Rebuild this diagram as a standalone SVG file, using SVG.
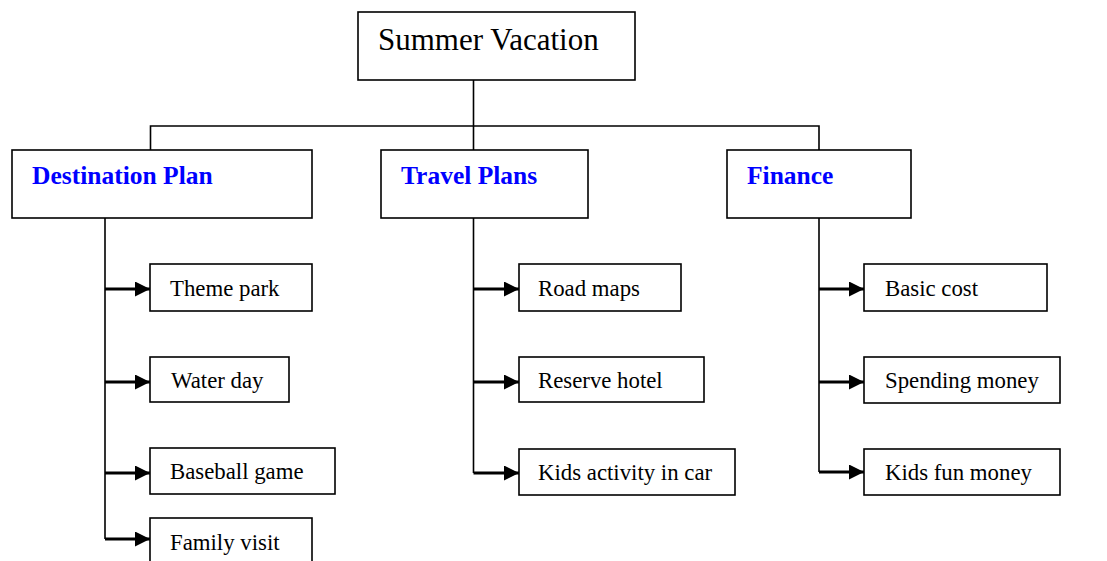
<svg xmlns="http://www.w3.org/2000/svg" width="1107" height="561" viewBox="0 0 1107 561">
<defs>
<style>
.box{fill:#fff;stroke:#000;stroke-width:1.6}
.t{font-family:"Liberation Serif","Times New Roman",serif;font-size:22.8px;fill:#000}
.h{font-family:"Liberation Serif","Times New Roman",serif;font-size:25.5px;font-weight:bold;fill:#0000ff}
.root{font-family:"Liberation Serif","Times New Roman",serif;font-size:31px;fill:#000}
.ln{fill:none;stroke:#000;stroke-width:1.6}
.ar{fill:none;stroke:#000;stroke-width:3.2}
</style>
<marker id="ah" viewBox="0 0 10 10" refX="10" refY="5" markerWidth="15" markerHeight="15" markerUnits="userSpaceOnUse" orient="auto">
<path d="M0,0 L10,5 L0,10 Z" fill="#000"/>
</marker>
</defs>
<g id="connectors">
<path class="ln" d="M473.5,80 V150 M150.5,150 V126 H819 V150"/>
<path class="ln" d="M105,218 V539 M473.5,218 V473 M819,218 V472"/>
<path class="ar" d="M105,289 H150" marker-end="url(#ah)"/>
<path class="ar" d="M105,382 H150" marker-end="url(#ah)"/>
<path class="ar" d="M105,473 H150" marker-end="url(#ah)"/>
<path class="ar" d="M105,539 H150" marker-end="url(#ah)"/>
<path class="ar" d="M473.5,289 H519" marker-end="url(#ah)"/>
<path class="ar" d="M473.5,382 H519" marker-end="url(#ah)"/>
<path class="ar" d="M473.5,473 H519" marker-end="url(#ah)"/>
<path class="ar" d="M819,289 H864" marker-end="url(#ah)"/>
<path class="ar" d="M819,382 H864" marker-end="url(#ah)"/>
<path class="ar" d="M819,472 H864" marker-end="url(#ah)"/>
</g>
<g id="root"><rect class="box" x="358" y="12" width="277" height="68"/><text class="root" x="378" y="50">Summer Vacation</text></g>
<g id="destination"><rect class="box" x="12" y="150" width="300" height="68"/><text class="h" x="32" y="183.5">Destination Plan</text></g>
<g id="travel"><rect class="box" x="381" y="150" width="207" height="68"/><text class="h" x="401" y="183.5">Travel Plans</text></g>
<g id="finance"><rect class="box" x="727" y="150" width="184" height="68"/><text class="h" x="747" y="183.5">Finance</text></g>
<g id="theme-park"><rect class="box" x="150" y="264" width="162" height="47"/><text class="t" x="170" y="296">Theme park</text></g>
<g id="water-day"><rect class="box" x="150" y="357" width="139" height="45"/><text class="t" x="171" y="388">Water day</text></g>
<g id="baseball-game"><rect class="box" x="150" y="448" width="185" height="46"/><text class="t" x="170" y="479">Baseball game</text></g>
<g id="family-visit"><rect class="box" x="150" y="518" width="162" height="60"/><text class="t" x="170" y="550">Family visit</text></g>
<g id="road-maps"><rect class="box" x="519" y="264" width="162" height="47"/><text class="t" x="538" y="296">Road maps</text></g>
<g id="reserve-hotel"><rect class="box" x="519" y="357" width="185" height="45"/><text class="t" x="538" y="388">Reserve hotel</text></g>
<g id="kids-activity"><rect class="box" x="519" y="449" width="216" height="46"/><text class="t" x="538" y="480">Kids activity in car</text></g>
<g id="basic-cost"><rect class="box" x="864" y="264" width="183" height="47"/><text class="t" x="885" y="296">Basic cost</text></g>
<g id="spending-money"><rect class="box" x="864" y="357" width="196" height="46"/><text class="t" x="885" y="388">Spending money</text></g>
<g id="kids-fun-money"><rect class="box" x="864" y="449" width="196" height="46"/><text class="t" x="885" y="480">Kids fun money</text></g>
</svg>
